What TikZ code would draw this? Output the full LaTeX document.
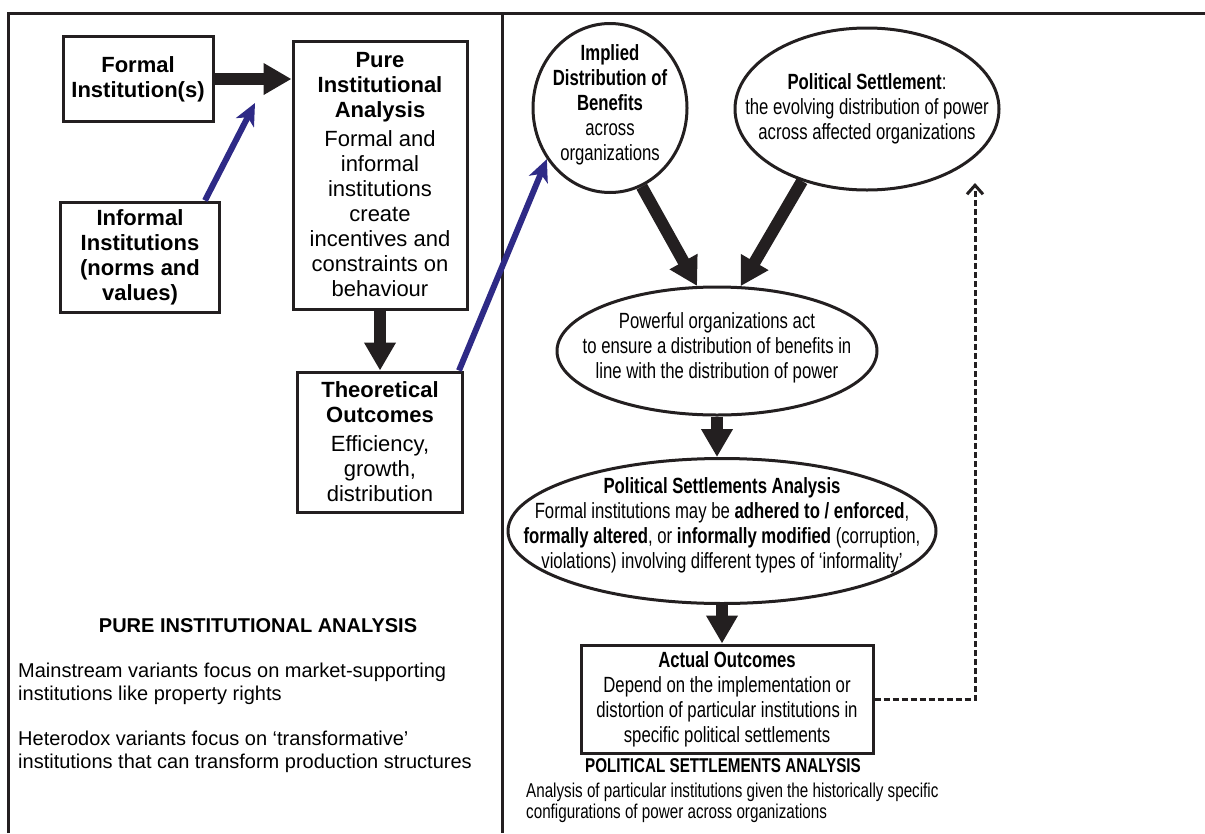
\documentclass[tikz,border=0pt]{standalone}
\usepackage{fontspec}
\setmainfont{Liberation Sans}
\newfontfamily\narrow[FakeStretch=0.76]{Liberation Sans}
\usetikzlibrary{positioning,arrows.meta,shapes.geometric}
\definecolor{ink}{HTML}{231F20}
\definecolor{indigo}{HTML}{2E2A86}

\begin{document}
\begin{tikzpicture}[x=1pt, y=-1pt, on grid,
    box/.style={draw=ink, line width=3pt, align=center, inner sep=0pt,
      font=\fontsize{22}{25}\selectfont},
    oval/.style={ellipse, draw=ink, line width=3pt, inner sep=0pt},
    ovaltext/.style={align=center, inner sep=0pt,
      font=\narrow\fontsize{22}{25}\selectfont},
    fat/.style={draw=ink, line width=12pt, -{Triangle[width=30pt,length=28pt]}},
    bluearrow/.style={draw=indigo, line width=6pt,
      -{Stealth[width=20pt,length=22pt,inset=6pt]}},
    feedback/.style={draw=ink, line width=3pt, dash pattern=on 6pt off 3pt,
      -{Straight Barb[width=16pt,length=9pt]}}]
  \useasboundingbox (0,0) rectangle (1205,833);
  % the two panels
  \draw[ink, line width=3pt] (8,833) -- (8,13) -- (1205,13);
  \draw[ink, line width=3pt] (502,13) -- (502,833);%

  % pure institutional analysis
  \node[box, minimum width=150pt, minimum height=85pt, font=\bfseries\fontsize{22}{25}\selectfont]
    (formal) at (138,79) {Formal\\Institution(s)};%
  \node[box, minimum width=174pt, minimum height=268pt] (pure) at (380,175)
    {\textbf{Pure}\\\textbf{Institutional}\\\textbf{Analysis}\\[4pt]Formal and\\informal\\institutions\\create\\incentives and\\constraints on\\behaviour};%
  \node[box, minimum width=159pt, minimum height=110pt, font=\bfseries\fontsize{22}{25}\selectfont]
    (informal) at (140,257) {Informal\\Institutions\\(norms and\\values)};%
  \node[box, minimum width=165pt, minimum height=140pt] (theo) [below=267pt of pure]
    {\textbf{Theoretical}\\\textbf{Outcomes}\\[4pt]Efficiency,\\growth,\\distribution};%

  % political settlements analysis
  \node[oval, minimum width=154pt, minimum height=169pt] (implied) at (610,108) {};%
  \node[ovaltext] (impliedtext) at ([yshift=3pt]implied.center)
    {\textbf{Implied}\\\textbf{Distribution of}\\\textbf{Benefits}\\across\\organizations};%
  \node[oval, minimum width=264pt, minimum height=162pt] (polset) at (867,109) {};%
  \node[ovaltext] (polsettext) at (polset.center)
    {\textbf{Political Settlement}:\\the evolving distribution of power\\across affected organizations};%
  \node[oval, minimum width=320pt, minimum height=128pt] (powerful) at (717,351) {};%
  \node[ovaltext] (powerfultext) at ([yshift=3pt]powerful.center)
    {Powerful organizations act\\to ensure a distribution of benefits in\\line with the distribution of power};%
  \node[oval, minimum width=428pt, minimum height=145pt] (psa) at (722,531) {};%
  \node[ovaltext] (psatext) at ([yshift=6pt]psa.center)
    {\textbf{Political Settlements Analysis}\\Formal institutions may be \textbf{adhered to / enforced},\\\textbf{formally altered}, or \textbf{informally modified} (corruption,\\violations) involving different types of ‘informality’};%
  \node[box, minimum width=292pt, minimum height=108pt, font=\narrow\fontsize{22}{25}\selectfont]
    (actual) at (727,699) {\textbf{Actual Outcomes}\\Depend on the implementation or\\distortion of particular institutions in\\specific political settlements};%

  % connectors
  \coordinate (formaltip) at (255,103);
  \coordinate (feedtip) at (975,183);
  \draw[fat] (formal.east) -- (formal.east -| pure.west);
  \draw[bluearrow] ([xshift=-16pt]informal.north east) -- (formaltip);
  \draw[fat] (pure.south) -- (theo.north);
  \draw[bluearrow] ([xshift=-5pt]theo.north east) -- (implied.219);
  \draw[fat] (implied.292) -- (powerful.107);
  \draw[fat] (polset.228) -- (powerful.70);
  \draw[fat] (powerful.south) -- (powerful.south |- psa.north);
  \draw[fat] (psa.south) -- (psa.south |- actual.north);
  \draw[feedback] (actual.east) -| (feedtip);%

  % captions
  \node[anchor=base, font=\bfseries\fontsize{20}{23}\selectfont] (pureheading) at (258,632)
    {PURE INSTITUTIONAL ANALYSIS};
  \node[anchor=base west, align=left, inner sep=0pt, font=\fontsize{20}{23}\selectfont]
    (mainstream) at (18,700) {Mainstream variants focus on market-supporting\\institutions like property rights};
  \node[anchor=base west, align=left, inner sep=0pt, font=\fontsize{20}{23}\selectfont]
    (heterodox) at (18,768) {Heterodox variants focus on ‘transformative’\\institutions that can transform production structures};
  \node[anchor=base, font=\narrow\bfseries\fontsize{20}{22}\selectfont] (psaheading) at (723,772)
    {POLITICAL SETTLEMENTS ANALYSIS};
  \node[anchor=base west, align=left, inner sep=0pt, font=\narrow\fontsize{20}{21}\selectfont]
    (psadesc) at (526,818) {Analysis of particular institutions given the historically specific\\configurations of power across organizations};
\end{tikzpicture}
\end{document}
